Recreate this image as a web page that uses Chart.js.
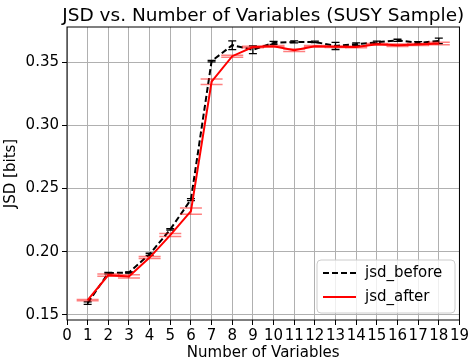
<!DOCTYPE html>
<html>
<head>
<meta charset="utf-8">
<script src="https://cdn.jsdelivr.net/npm/chart.js@4.4.1/dist/chart.umd.min.js"></script>
<style>
  html, body { margin: 0; padding: 0; background: #fff; }
  #wrap { width: 471px; height: 362px; }
</style>
</head>
<body>
<div id="wrap"><canvas id="chart" width="471" height="362"></canvas></div>
<script>
const N_VARS = [1, 2, 3, 4, 5, 6, 7, 8, 9, 10, 11, 12, 13, 14, 15, 16, 17, 18];
const JSD_BEFORE = [0.1594, 0.1831, 0.1836, 0.1980, 0.2177, 0.2413, 0.3508, 0.3634, 0.3598, 0.3652, 0.3660, 0.3660, 0.3628, 0.3642, 0.3657, 0.3673, 0.3652, 0.3668];
const JSD_BEFORE_ERR = [0.0010, 0.0006, 0.0005, 0.0008, 0.0006, 0.0008, 0.0006, 0.0035, 0.0030, 0.0012, 0.0008, 0.0006, 0.0028, 0.0010, 0.0010, 0.0008, 0.0010, 0.0022];
const JSD_AFTER = [0.1618, 0.1815, 0.1805, 0.1954, 0.2132, 0.2321, 0.3345, 0.3547, 0.3620, 0.3626, 0.3594, 0.3626, 0.3622, 0.3620, 0.3642, 0.3634, 0.3640, 0.3647];
const JSD_AFTER_ERR = [0.0005, 0.0008, 0.0013, 0.0008, 0.0012, 0.0025, 0.0022, 0.0008, 0.0006, 0.0006, 0.0010, 0.0006, 0.0006, 0.0006, 0.0006, 0.0010, 0.0008, 0.0010];
const X_TICKS = [0, 1, 2, 3, 4, 5, 6, 7, 8, 9, 10, 11, 12, 13, 14, 15, 16, 17, 18, 19];
const Y_TICKS = [0.15, 0.20, 0.25, 0.30, 0.35];

const FONT = "'DejaVu Sans', sans-serif";
const ERR_STYLE = [
  { vals: JSD_BEFORE, errs: JSD_BEFORE_ERR, color: "#000000", cap: 4, width: 1.3 },
  { vals: JSD_AFTER, errs: JSD_AFTER_ERR, color: "rgba(255,0,0,0.5)", cap: 11, width: 1.5 },
];

// error bars, drawn right after their own line so the red line stays on top
const errorBars = {
  id: "errorBars",
  afterDatasetDraw(chart, args) {
    const st = ERR_STYLE[args.index];
    if (!st) return;
    const { ctx, scales: { x, y } } = chart;
    ctx.save();
    ctx.strokeStyle = st.color;
    ctx.lineWidth = st.width;
    N_VARS.forEach((n, i) => {
      const px = x.getPixelForValue(n);
      const top = y.getPixelForValue(st.vals[i] + st.errs[i]);
      const bot = y.getPixelForValue(st.vals[i] - st.errs[i]);
      ctx.beginPath();
      ctx.moveTo(px, top); ctx.lineTo(px, bot);
      ctx.moveTo(px - st.cap, top); ctx.lineTo(px + st.cap, top);
      ctx.moveTo(px - st.cap, bot); ctx.lineTo(px + st.cap, bot);
      ctx.stroke();
    });
    ctx.restore();
  },
};

// axes frame, title and the in-plot legend
const decor = {
  id: "decor",
  afterDraw(chart) {
    const { ctx, chartArea: a } = chart;
    ctx.save();
    ctx.strokeStyle = "#000";
    ctx.lineWidth = 1;
    ctx.strokeRect(a.left, a.top, a.right - a.left, a.bottom - a.top);

    ctx.fillStyle = "#000";
    ctx.font = "18.5px " + FONT;
    ctx.textAlign = "center";
    ctx.textBaseline = "alphabetic";
    ctx.fillText("JSD vs. Number of Variables (SUSY Sample)", (a.left + a.right) / 2, 21);

    // legend box
    const lx = 317, ly = 260, lw = 138, lh = 53, r = 4;
    ctx.beginPath();
    ctx.moveTo(lx + r, ly);
    ctx.arcTo(lx + lw, ly, lx + lw, ly + lh, r);
    ctx.arcTo(lx + lw, ly + lh, lx, ly + lh, r);
    ctx.arcTo(lx, ly + lh, lx, ly, r);
    ctx.arcTo(lx, ly, lx + lw, ly, r);
    ctx.closePath();
    ctx.fillStyle = "rgba(255,255,255,0.8)";
    ctx.fill();
    ctx.strokeStyle = "#cccccc";
    ctx.stroke();

    const items = [
      { label: "jsd_before", color: "#000", dash: [6, 3] },
      { label: "jsd_after", color: "#ff0000", dash: [] },
    ];
    items.forEach((it, i) => {
      const yy = ly + 13 + i * 24;
      ctx.strokeStyle = it.color;
      ctx.lineWidth = 2;
      ctx.setLineDash(it.dash);
      ctx.beginPath();
      ctx.moveTo(lx + 6, yy); ctx.lineTo(lx + 39, yy);
      ctx.stroke();
      ctx.setLineDash([]);
      ctx.fillStyle = "#000";
      ctx.font = "15px " + FONT;
      ctx.textAlign = "left";
      ctx.textBaseline = "middle";
      ctx.fillText(it.label, lx + 48, yy);
    });
    ctx.restore();
  },
};

new Chart(document.getElementById("chart"), {
  type: "line",
  data: {
    datasets: [
      {
        label: "jsd_before",
        data: N_VARS.map((n, i) => ({ x: n, y: JSD_BEFORE[i] })),
        borderColor: "#000000",
        borderWidth: 2,
        borderDash: [6, 3],
        pointRadius: 0,
        tension: 0,
        order: 1,
      },
      {
        label: "jsd_after",
        data: N_VARS.map((n, i) => ({ x: n, y: JSD_AFTER[i] })),
        borderColor: "#ff0000",
        borderWidth: 2,
        pointRadius: 0,
        tension: 0,
        order: 0,
      },
    ],
  },
  options: {
    responsive: false,
    animation: false,
    layout: { padding: { top: 27, right: 9, left: 0, bottom: 0 } },
    plugins: { legend: { display: false }, title: { display: false }, tooltip: { enabled: false } },
    scales: {
      x: {
        type: "linear",
        min: 0,
        max: 19,
        afterBuildTicks: (s) => { s.ticks = X_TICKS.map((v) => ({ value: v })); },
        afterFit: (s) => { s.height = 42; },
        grid: { color: "#b0b0b0", lineWidth: 1, tickColor: "#000", tickLength: 5 },
        border: { display: false },
        ticks: { autoSkip: false, maxRotation: 0, color: "#000", padding: 2, font: { family: FONT, size: 15 } },
        title: { display: true, text: "Number of Variables", color: "#000", padding: 0, font: { family: FONT, size: 15 } },
      },
      y: {
        type: "linear",
        min: 0.146,
        max: 0.3778,
        afterBuildTicks: (s) => { s.ticks = Y_TICKS.map((v) => ({ value: v })); },
        afterFit: (s) => { s.width = 67; },
        grid: { color: "#b0b0b0", lineWidth: 1, tickColor: "#000", tickLength: 5 },
        border: { display: false },
        ticks: { color: "#000", padding: 3, font: { family: FONT, size: 15 }, callback: (v) => v.toFixed(2) },
        title: { display: true, text: "JSD [bits]", color: "#000", padding: 2, font: { family: FONT, size: 15 } },
      },
    },
  },
  plugins: [errorBars, decor],
});
</script>
</body>
</html>
